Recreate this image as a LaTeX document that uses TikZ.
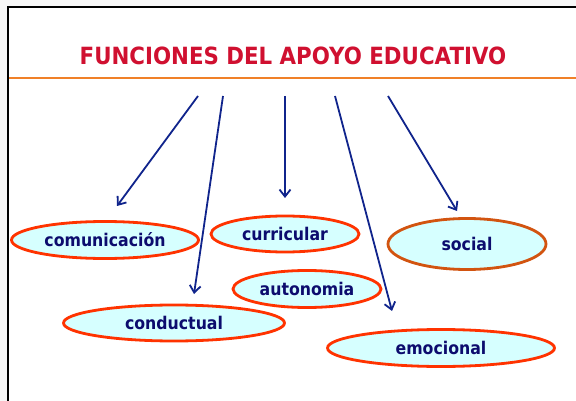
\documentclass[tikz,border=0pt]{standalone}
\usepackage{fontspec}
\usetikzlibrary{shapes.geometric,arrows.meta}
\newfontfamily\tah{DejaVu Sans}[FakeStretch=0.9]
\definecolor{titlered}{RGB}{208,16,48}
\definecolor{rule}{RGB}{240,128,40}
\definecolor{navy}{RGB}{16,36,140}
\definecolor{labelnavy}{RGB}{12,12,110}
\definecolor{ellfill}{RGB}{214,255,255}
\definecolor{ellred}{RGB}{255,51,0}
\definecolor{ellorange}{RGB}{210,84,16}
\definecolor{pagegray}{RGB}{247,247,247}
\tikzset{
  oval/.style={ellipse, draw=ellred, fill=ellfill, line width=2.8pt, inner sep=0pt,
    font=\tah\bfseries\fontsize{17.5}{20}\selectfont, text=labelnavy},
  conn/.style={draw=navy, line width=1.8pt, -{Straight Barb[length=7pt,width=11pt,line width=1.8pt]}},
}
\begin{document}
\begin{tikzpicture}[x=1pt,y=-1pt]
\useasboundingbox (0,0) rectangle (576,401);
\fill[pagegray] (0,0) rectangle (576,401);
\begin{scope}
\clip (0,0) rectangle (576,401);
\draw[line width=2.6pt, fill=white] (8,7) rectangle (590,420);
\end{scope}
\node[font=\tah\bfseries\fontsize{23.7}{26}\selectfont, text=titlered] (title) at (293,55.5) {FUNCIONES DEL APOYO EDUCATIVO};
\draw[rule, line width=2pt] (9,78.5) -- (576,78.5);

\node[oval, minimum width=187pt, minimum height=37pt] (com) at (105,240) {comunicación};
\node[oval, minimum width=148pt, minimum height=36pt] (cur) at (285,234) {curricular};
\node[oval, minimum width=148pt, minimum height=37pt] (aut) at (307,289) {autonomia};
\node[oval, minimum width=221pt, minimum height=36pt] (con) at (174,323) {conductual};
\node[oval, draw=ellorange, minimum width=158pt, minimum height=51pt] (soc) at (467,244) {social};
\node[oval, minimum width=227pt, minimum height=37pt] (emo) at (441,348) {emocional};

\coordinate (s1) at (198,96);  \coordinate (e1) at (117,206);
\coordinate (s2) at (223,96);  \coordinate (e2) at (194,294);
\coordinate (s3) at (285,96);  \coordinate (e3) at (285,198);
\coordinate (s4) at (335,96);  \coordinate (e4) at (392,311);
\coordinate (s5) at (388,96);  \coordinate (e5) at (457,211);
\draw[conn] (s1) -- (e1);
\draw[conn] (s2) -- (e2);
\draw[conn] (s3) -- (e3);
\draw[conn] (s4) -- (e4);
\draw[conn] (s5) -- (e5);
\end{tikzpicture}
\end{document}
